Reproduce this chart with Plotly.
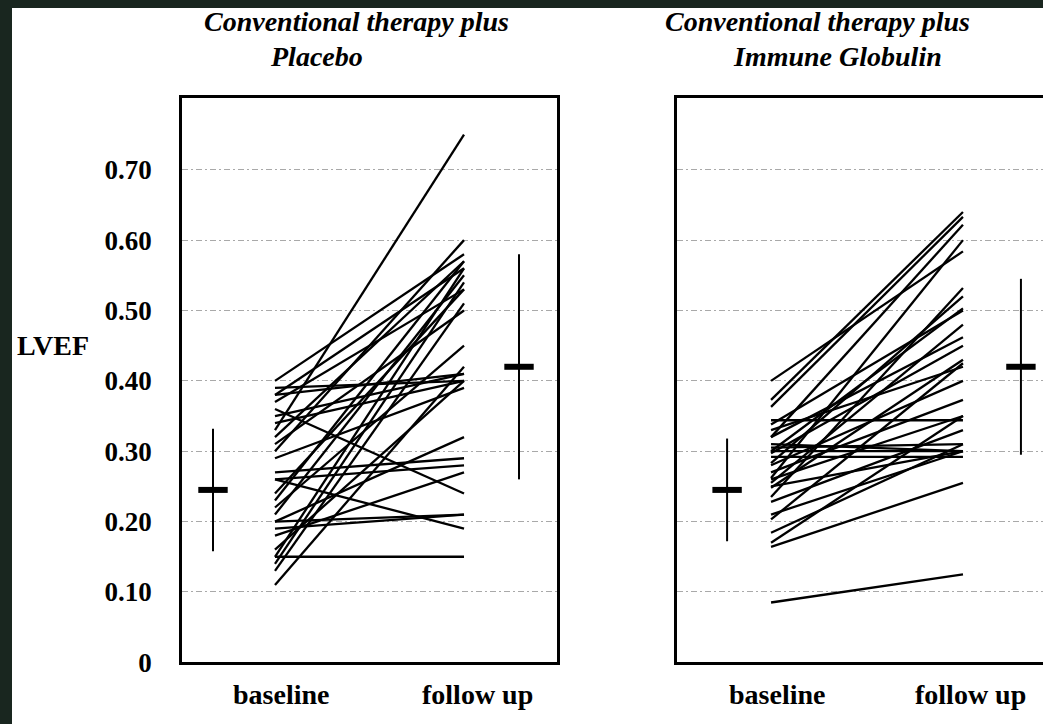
import plotly.graph_objects as go

# LVEF per patient: baseline and follow-up, conventional therapy + placebo
placebo_baseline = [0.33, 0.40, 0.39, 0.38, 0.37, 0.36, 0.35, 0.34, 0.30, 0.31,
                    0.26, 0.27, 0.26, 0.23, 0.22, 0.20, 0.19, 0.20, 0.18, 0.15,
                    0.15, 0.14, 0.13, 0.11, 0.24, 0.32, 0.29, 0.16, 0.38, 0.21]
placebo_followup = [0.75, 0.58, 0.40, 0.41, 0.53, 0.24, 0.41, 0.40, 0.60, 0.50,
                    0.19, 0.29, 0.28, 0.57, 0.45, 0.21, 0.21, 0.32, 0.27, 0.15,
                    0.56, 0.54, 0.51, 0.42, 0.53, 0.57, 0.39, 0.40, 0.56, 0.55]

# LVEF per patient: conventional therapy + immune globulin
ig_baseline = [0.085, 0.40, 0.373, 0.363, 0.344, 0.338, 0.32, 0.31, 0.305, 0.30,
               0.297, 0.292, 0.283, 0.27, 0.262, 0.255, 0.248, 0.235, 0.228, 0.203,
               0.184, 0.164, 0.17, 0.32, 0.30, 0.26, 0.33, 0.28, 0.25, 0.21]
ig_followup = [0.125, 0.584, 0.64, 0.633, 0.344, 0.50, 0.622, 0.30, 0.31, 0.30,
               0.45, 0.292, 0.52, 0.373, 0.60, 0.48, 0.43, 0.532, 0.33, 0.425,
               0.31, 0.255, 0.35, 0.462, 0.503, 0.35, 0.42, 0.40, 0.30, 0.30]

# group mean and standard deviation (baseline, follow-up)
placebo_mean = [0.245, 0.42]
placebo_sd = [0.087, 0.16]
ig_mean = [0.245, 0.42]
ig_sd = [0.073, 0.125]

time_points = ["baseline", "follow up"]
panel_titles = [("Conventional therapy plus", "Placebo"),
                ("Conventional therapy plus", "Immune Globulin")]
y_ticks = [0, 0.10, 0.20, 0.30, 0.40, 0.50, 0.60, 0.70]
y_ticktext = ["0", "0.10", "0.20", "0.30", "0.40", "0.50", "0.60", "0.70"]

W, H = 1043, 724
SERIF = "Liberation Serif"

fig = go.Figure()

def add_panel(baseline, followup, mean, sd, xa, ya, mean_x):
    for b, f in zip(baseline, followup):
        fig.add_trace(go.Scatter(
            x=[1, 2], y=[b, f], mode="lines", xaxis=xa, yaxis=ya,
            line=dict(color="black", width=2.3), showlegend=False, hoverinfo="skip"))
    fig.add_trace(go.Scatter(
        x=mean_x, y=mean, mode="markers", xaxis=xa, yaxis=ya,
        marker=dict(symbol="line-ew", size=21, color="black",
                    line=dict(color="black", width=6)),
        error_y=dict(type="data", array=sd, visible=True, color="black",
                     thickness=2, width=0),
        showlegend=False, hoverinfo="skip"))

add_panel(placebo_baseline, placebo_followup, placebo_mean, placebo_sd,
          "x", "y", [0.672, 2.291])
add_panel(ig_baseline, ig_followup, ig_mean, ig_sd,
          "x2", "y2", [0.771, 2.302])

y_range = [0, 0.802]
y_dom = [1 - 662.3 / H, 1 - 98 / H]
grid = dict(showgrid=True, gridcolor="#a9a9a9", gridwidth=1, griddash="6px,3px,2px,3px")

fig.update_layout(
    width=W, height=H,
    margin=dict(l=0, r=0, t=0, b=0, autoexpand=False),
    paper_bgcolor="#19261f",
    plot_bgcolor="white",
    xaxis=dict(domain=[182 / W, 557 / W], range=[0.508, 2.492], automargin=False,
               showline=True, linecolor="black", linewidth=3, mirror=True,
               showticklabels=False, ticks="", showgrid=False, zeroline=False),
    yaxis=dict(domain=y_dom, range=y_range, tickvals=y_ticks, ticktext=y_ticktext,
               automargin=False,
               showline=True, linecolor="black", linewidth=2.5, mirror=True,
               ticks="", ticklabelstandoff=22, zeroline=False,
               tickfont=dict(family=SERIF, size=27, color="black", weight="bold"),
               **grid),
    xaxis2=dict(domain=[677 / W, 1.0], range=[0.51, 2.417], automargin=False,
                showline=True, linecolor="black", linewidth=3, mirror=True,
                showticklabels=False, ticks="", showgrid=False, zeroline=False),
    yaxis2=dict(domain=y_dom, range=y_range, tickvals=y_ticks, automargin=False,
                showline=True, linecolor="black", linewidth=2.5, mirror=False,
                showticklabels=False, ticks="", zeroline=False, anchor="x2",
                **grid),
    shapes=[dict(type="rect", xref="paper", yref="paper",
                 x0=12 / W, x1=1.05, y0=-0.05, y1=1 - 8 / H,
                 fillcolor="white", line=dict(width=0), layer="below")],
)

annotations = []

def text_ann(text, xref, x, y_px, size, xanchor="center"):
    annotations.append(dict(
        text=text, xref=xref, yref="paper", x=x, y=1 - y_px / H,
        xanchor=xanchor, yanchor="middle", showarrow=False,
        font=dict(family=SERIF, size=size, color="black")))

# panel titles
text_ann("<b><i>%s</i></b>" % panel_titles[0][0], "paper", 356 / W, 22, 28)
text_ann("<b><i>%s</i></b>" % panel_titles[0][1], "paper", 316 / W, 56, 28)
text_ann("<b><i>%s</i></b>" % panel_titles[1][0], "paper", 817 / W, 22, 28)
text_ann("<b><i>%s</i></b>" % panel_titles[1][1], "paper", 837 / W, 56, 28)

# y-axis title
text_ann("<b>LVEF</b>", "paper", 53 / W, 345, 28)

# time-point labels under each panel
text_ann("<b>%s</b>" % time_points[0], "x", 1.03, 694, 28)
text_ann("<b>%s</b>" % time_points[1], "x", 2.07, 694, 28)
text_ann("<b>%s</b>" % time_points[0], "x2", 1.03, 694, 28)
text_ann("<b>%s</b>" % time_points[1], "x2", 2.04, 694, 28)

fig.update_layout(annotations=annotations)

fig.write_html("out.html")
